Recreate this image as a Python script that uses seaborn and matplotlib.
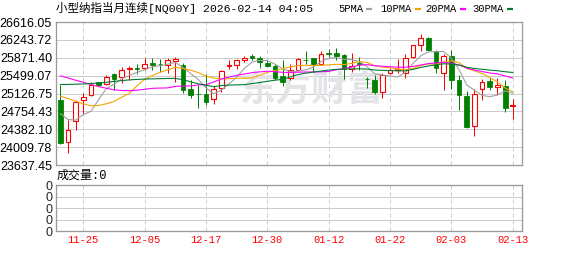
import matplotlib
matplotlib.use("Agg")
import matplotlib.pyplot as plt
from matplotlib.lines import Line2D
import numpy as np
import pandas as pd
import seaborn as sns

# ---------------- data ----------------
dates = ["11-20", "11-21", "11-24", "11-25", "11-26", "11-27", "11-28", "12-01", "12-02", "12-03", "12-04", "12-05",
         "12-08", "12-09", "12-10", "12-11", "12-12", "12-15", "12-16", "12-17",
         "12-18", "12-19", "12-22", "12-23", "12-24", "12-26", "12-29", "12-30",
         "12-31", "01-02", "01-05", "01-06", "01-07", "01-08", "01-09", "01-12",
         "01-13", "01-14", "01-15", "01-16", "01-19", "01-20", "01-21", "01-22",
         "01-23", "01-26", "01-27", "01-28", "01-29", "01-30", "02-02", "02-03",
         "02-04", "02-05", "02-06", "02-09", "02-10", "02-11", "02-12", "02-13"]

opens = [24988, 24107, 24551, 25001, 25098, 25362, 25334, 25528, 25466, 25639,
         25660, 25667, 25764, 25750, 25715, 25812, 25715, 25230, 25126, 25112,
         25015, 25251, 25701, 25729, 25833, 25902, 25875, 25764, 25694, 25486,
         25452, 25611, 25833, 25861, 25750, 25972, 25972, 25930, 25632, 25771,
         25438, 25403, 25161, 25556, 25625, 25563, 25888, 26145, 26290, 26013,
         25563, 25902, 25403, 25071, 24440, 25230, 25382, 25271, 25292, 24856]
highs = [25310, 24572, 25001, 25133, 25376, 25370, 25507, 25556, 25674, 25701,
         25736, 25875, 25875, 25854, 25875, 25888, 25764, 25403, 25299, 25528,
         25279, 25611, 25819, 25840, 25902, 25944, 25902, 25819, 25750, 25819,
         25750, 25868, 26013, 25875, 26013, 26055, 26076, 25944, 25972, 25888,
         25473, 25507, 25556, 25666, 25854, 25944, 26145, 26373, 26304, 26027,
         25958, 26041, 25507, 25182, 25230, 25438, 25459, 25459, 25417, 25008]
lows = [24080, 23893, 24364, 24710, 25071, 25305, 25313, 25209, 25348, 25417,
        25535, 25611, 25625, 25577, 25563, 25376, 25140, 25036, 24828, 24884,
        24918, 25161, 25632, 25646, 25784, 25833, 25660, 25680, 25417, 25285,
        25417, 25590, 25743, 25577, 25715, 25888, 25833, 25438, 25577, 25625,
        25244, 25112, 25036, 25542, 25556, 25459, 25874, 26013, 26013, 25556,
        25209, 25230, 24793, 24412, 24246, 24987, 25209, 25091, 24731, 24586]
closes = [24087, 24357, 24960, 25064, 25313, 25313, 25480, 25431, 25625, 25667,
          25639, 25750, 25729, 25736, 25819, 25854, 25209, 25092, 25112, 24953,
          25230, 25604, 25729, 25819, 25875, 25875, 25784, 25701, 25459, 25369,
          25611, 25840, 25819, 25743, 25944, 25958, 25909, 25646, 25701, 25750,
          25424, 25161, 25521, 25611, 25646, 25875, 26131, 26290, 26027, 25666,
          25902, 25417, 25105, 24426, 25126, 25369, 25271, 25299, 24828, 24897]

ma5 = [24710, 24586, 24572, 24690, 24756, 25001, 25226, 25320, 25432, 25503,
       25568, 25622, 25682, 25704, 25735, 25778, 25669, 25542, 25417, 25244,
       25119, 25198, 25326, 25467, 25651, 25780, 25816, 25811, 25739, 25638,
       25585, 25596, 25620, 25676, 25791, 25861, 25875, 25840, 25832, 25793,
       25686, 25536, 25511, 25493, 25473, 25563, 25757, 25911, 25994, 25998,
       26003, 25860, 25623, 25303, 25195, 25089, 25059, 25098, 25179, 25133]
ma10 = [25071, 25022, 24967, 24912, 24870, 24877, 24912, 24960, 25050, 25130,
        25285, 25424, 25501, 25568, 25619, 25673, 25646, 25612, 25561, 25489,
        25448, 25434, 25434, 25442, 25448, 25450, 25507, 25568, 25603, 25644,
        25683, 25706, 25715, 25708, 25715, 25723, 25735, 25730, 25754, 25792,
        25773, 25706, 25676, 25663, 25633, 25624, 25647, 25711, 25744, 25735,
        25783, 25809, 25767, 25649, 25597, 25546, 25460, 25361, 25241, 25164]
ma20 = [25494, 25452, 25404, 25362, 25313, 25272, 25237, 25203, 25189, 25185,
        25195, 25215, 25234, 25240, 25244, 25275, 25279, 25286, 25305, 25309,
        25367, 25429, 25467, 25505, 25533, 25561, 25577, 25590, 25582, 25567,
        25565, 25570, 25575, 25575, 25581, 25586, 25621, 25649, 25678, 25718,
        25728, 25706, 25695, 25685, 25674, 25674, 25691, 25720, 25749, 25764,
        25778, 25757, 25721, 25656, 25615, 25585, 25553, 25536, 25492, 25450]
ma30 = [25314, 25316, 25320, 25326, 25334, 25345, 25360, 25380, 25395, 25410,
        25420, 25428, 25432, 25436, 25440, 25440, 25415, 25370, 25330, 25300,
        25268, 25293, 25301, 25308, 25312, 25333, 25355, 25380, 25405, 25421,
        25472, 25521, 25550, 25573, 25594, 25615, 25629, 25637, 25639, 25642,
        25635, 25615, 25608, 25604, 25598, 25599, 25630, 25670, 25700, 25724,
        25746, 25740, 25719, 25673, 25648, 25631, 25614, 25601, 25580, 25564]

tick_dates = ["11-25", "12-05", "12-17", "12-30", "01-12", "01-22", "02-03", "02-13"]
price_ticks = [26616.05, 26243.72, 25871.40, 25499.07, 25126.75, 24754.43, 24382.10, 24009.78, 23637.45]
volume_ticks = [0, 1, 2, 3, 4]
volume_value = 0

title_text = "小型纳指当月连续[NQ00Y] 2026-02-14 04:05"
ma_names = ["5PMA", "10PMA", "20PMA", "30PMA"]
watermark = "东方财富"

# ---------------- style ----------------
sns.set_theme(style="white")
plt.rcParams["font.family"] = ["Liberation Sans", "Noto Sans CJK SC", "DejaVu Sans"]
plt.rcParams["axes.unicode_minus"] = False

PX = 0.72  # points per pixel at dpi 100
W, H = 578, 276
RED = "#ff0000"
GREEN = "#008000"
MA_COLORS = ["#a0a0a0", "#f5a400", "#ff00ff", "#007a33"]
GRID = "#cccccc"
FRAME = "#9a9a9a"
MONO = ["Liberation Mono", "Noto Sans CJK SC"]

df = pd.DataFrame({"date": dates, "open": opens, "high": highs, "low": lows, "close": closes,
                   "ma5": ma5, "ma10": ma10, "ma20": ma20, "ma30": ma30})
df["x"] = np.arange(len(df))
up = df["close"] >= df["open"]

fig = plt.figure(figsize=(W / 100, H / 100), dpi=100)


def frame(l, t, r, b):
    return [l / W, 1 - b / H, (r - l) / W, (b - t) / H]


ax = fig.add_axes(frame(56, 22, 522, 165))
vax = fig.add_axes(frame(56, 185, 522, 231))

tick_pos = [dates.index(d) for d in tick_dates]
xlim = (-0.56, 60.2)

# ---------------- main panel ----------------
ax.set_axisbelow(True)
ax.set_xlim(*xlim)
ax.set_ylim(min(price_ticks), max(price_ticks))
ax.set_yticks(price_ticks)
ax.set_yticklabels([f"{v:.2f}" for v in price_ticks], fontsize=12.5 * PX, color="#000000")
ax.set_xticks(tick_pos)
ax.set_xticklabels([])
ax.tick_params(length=0, pad=4 * PX)
ax.yaxis.grid(True, color=GRID, lw=1 * PX, ls="-")
ax.xaxis.grid(True, color=GRID, lw=1 * PX, ls=(0, (4, 3)))
for s in ax.spines.values():
    s.set_color(FRAME)
    s.set_linewidth(1.3 * PX)

# watermark
ax.text(312 / W, 1 - 90 / H, watermark, transform=fig.transFigure, fontsize=36 * PX,
        color="#e4e4e8", ha="center", va="center", fontweight="bold",
        family=["Noto Sans CJK SC"], zorder=0.8)

# candles: wicks
wick_colors = np.where(up, RED, GREEN)
ax.vlines(df["x"], df["low"], df["high"], colors=wick_colors, lw=1 * PX, zorder=3)
# bodies
body_bottom = np.minimum(df["open"], df["close"])
body_height = np.maximum(np.abs(df["close"] - df["open"]), 14)
ax.bar(df["x"][up], body_height[up], bottom=body_bottom[up], width=0.62,
       facecolor="white", edgecolor=RED, linewidth=1.1 * PX, zorder=4)
ax.bar(df["x"][~up], body_height[~up], bottom=body_bottom[~up], width=0.62,
       facecolor=GREEN, edgecolor=GREEN, linewidth=0.8 * PX, zorder=4)

# moving averages
for col, c in zip(["ma5", "ma10", "ma20", "ma30"], MA_COLORS):
    sns.lineplot(data=df, x="x", y=col, ax=ax, color=c, lw=1.1 * PX, zorder=5, estimator=None)
ax.set_xlabel("")
ax.set_ylabel("")

# ---------------- volume panel ----------------
vax.set_axisbelow(True)
vax.set_xlim(*xlim)
vax.set_ylim(min(volume_ticks), max(volume_ticks))
vax.set_yticks(volume_ticks)
vax.set_yticklabels([str(volume_value) for _ in volume_ticks], fontsize=12.5 * PX)
vax.set_xticks(tick_pos)
vax.set_xticklabels(tick_dates, family=MONO, fontsize=10.5 * PX, color=RED)
vax.tick_params(length=0, pad=4 * PX)
vax.yaxis.grid(True, color=GRID, lw=1 * PX, ls="-")
vax.xaxis.grid(True, color=GRID, lw=1 * PX, ls=(0, (4, 3)))
for s in vax.spines.values():
    s.set_color(FRAME)
    s.set_linewidth(1.3 * PX)

fig.text(57 / W, 1 - 176 / H, f"成交量:{volume_value}", family=MONO, fontsize=12 * PX,
         color="#000000", ha="left", va="center")

# ---------------- title & legend ----------------
fig.text(56 / W, 1 - 8 / H, title_text, family=MONO, fontsize=11.5 * PX,
         color="#000000", ha="left", va="center")

legend_x = [338, 380, 425, 472]
for name, c, lx in zip(ma_names, MA_COLORS, legend_x):
    fig.text(lx / W, 1 - 9 / H, name, family=MONO, fontsize=10.5 * PX,
             color="#000000", ha="left", va="center")
    sx = lx + 6.3 * len(name) + 3
    fig.add_artist(Line2D([sx / W, (sx + 6) / W], [1 - 9 / H, 1 - 9 / H],
                          transform=fig.transFigure, color=c, lw=2.2 * PX,
                          solid_capstyle="butt"))

fig.savefig("out.png", dpi=100)
